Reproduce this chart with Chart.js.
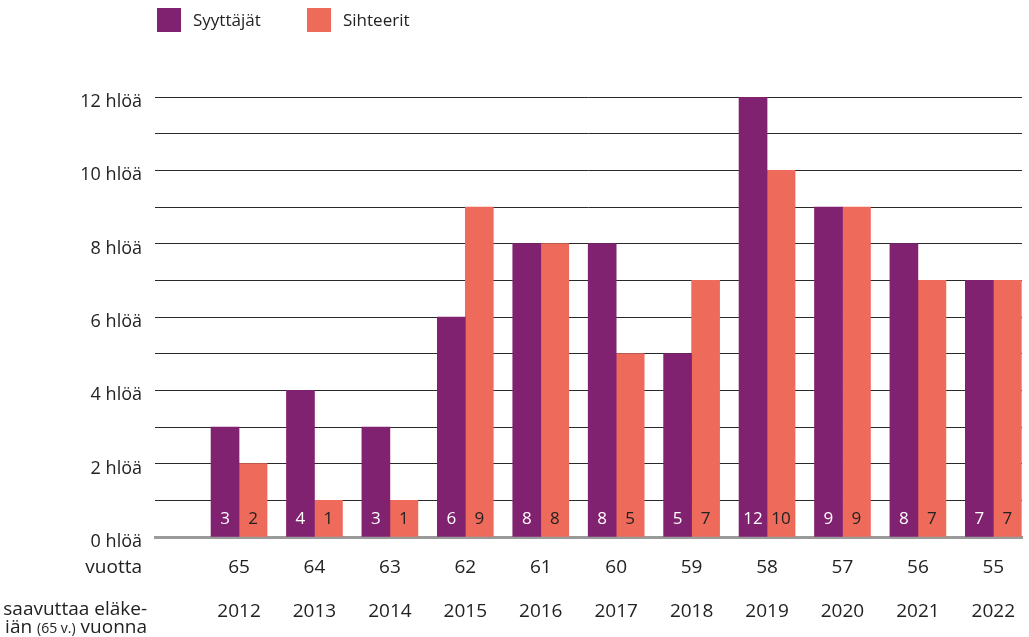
<!DOCTYPE html>
<html>
<head>
<meta charset="utf-8">
<script src="https://cdn.jsdelivr.net/npm/chart.js@4/dist/chart.umd.min.js"></script>
<style>
  html, body { margin: 0; padding: 0; background: #fff; }
  #wrap { width: 1029px; height: 637px; position: relative; }
</style>
</head>
<body>
<div id="wrap"><canvas id="c"></canvas></div>
<script>
const years = ['2012','2013','2014','2015','2016','2017','2018','2019','2020','2021','2022'];
const ages = ['65','64','63','62','61','60','59','58','57','56','55'];
const syyttajat = [3, 4, 3, 6, 8, 8, 5, 12, 9, 8, 7];
const sihteerit = [2, 1, 1, 9, 8, 5, 7, 10, 9, 7, 7];
const seriesNames = ['Syyttäjät', 'Sihteerit'];
const yTickUnit = 'hlöä';
const rowLabelAge = 'vuotta';

const PURPLE = '#812270';
const CORAL = '#EE6A5A';
const TEXT = '#222222';
const FONT = '"Open Sans", "DejaVu Sans", sans-serif';

const toPoints = arr => arr.map((v, i) => ({ x: i, y: v }));

const extras = {
  id: 'extras',
  afterDatasetsDraw(chart) {
    const ctx = chart.ctx;
    const yScale = chart.scales.y;
    ctx.save();
    ctx.font = '17px ' + FONT;
    ctx.textAlign = 'center';
    ctx.textBaseline = 'middle';
    chart.data.datasets.forEach((ds, di) => {
      const meta = chart.getDatasetMeta(di);
      meta.data.forEach((el, i) => {
        ctx.fillStyle = di === 0 ? '#ffffff' : TEXT;
        ctx.fillText(String(ds.data[i].y), el.x, yScale.getPixelForValue(0) - 18);
      });
    });
    ctx.restore();
  },
  afterDraw(chart) {
    const ctx = chart.ctx;
    const area = chart.chartArea;
    ctx.save();
    // legend
    const legendX = [157, 307];
    chart.data.datasets.forEach((ds, di) => {
      ctx.fillStyle = ds.backgroundColor;
      ctx.fillRect(legendX[di], 8, 24, 24);
      ctx.fillStyle = TEXT;
      ctx.font = '17px ' + FONT;
      ctx.textAlign = 'left';
      ctx.textBaseline = 'middle';
      ctx.fillText(ds.label, legendX[di] + 36, 21);
    });
    // left row labels
    ctx.fillStyle = TEXT;
    ctx.textBaseline = 'middle';
    ctx.textAlign = 'right';
    ctx.font = '19px ' + FONT;
    ctx.fillText(rowLabelAge, 142, area.bottom + 31);
    ctx.fillText('saavuttaa eläke-', 147, area.bottom + 73);
    // "iän (65 v.) vuonna" with smaller parenthetical
    const big = '19px ' + FONT, small = '14px ' + FONT;
    const parts = [['iän ', big], ['(65 v.)', small], [' vuonna', big]];
    let total = 0;
    parts.forEach(p => { ctx.font = p[1]; total += ctx.measureText(p[0]).width; });
    let x = 147 - total;
    ctx.textAlign = 'left';
    ctx.textBaseline = 'alphabetic';
    parts.forEach(p => {
      ctx.font = p[1];
      ctx.fillText(p[0], x, area.bottom + 96);
      x += ctx.measureText(p[0]).width;
    });
    ctx.restore();
  }
};

new Chart(document.getElementById('c'), {
  type: 'bar',
  data: {
    datasets: [
      { label: seriesNames[0], data: toPoints(syyttajat), backgroundColor: PURPLE, barThickness: 28 },
      { label: seriesNames[1], data: toPoints(sihteerit), backgroundColor: CORAL, barThickness: 28 }
    ]
  },
  options: {
    responsive: true,
    maintainAspectRatio: false,
    animation: false,
    layout: { padding: { top: 97, right: 7, bottom: 0, left: 0 } },
    plugins: { legend: { display: false }, tooltip: { enabled: false } },
    scales: {
      x: {
        type: 'linear',
        offset: false,
        min: -1.114,
        max: 10.38,
        grid: { display: false, drawTicks: false, offset: false },
        border: { display: true, color: '#9a9a9a', width: 3 },
        afterFit(scale) { scale.height = 100; },
        ticks: {
          stepSize: 1,
          includeBounds: false,
          autoSkip: false,
          maxRotation: 0,
          padding: 9,
          color: TEXT,
          font: { family: FONT, size: 19, lineHeight: 44 / 19 },
          callback(v) {
            if (Number.isInteger(v) && v >= 0 && v < years.length) return [ages[v], years[v]];
            return '';
          }
        }
      },
      y: {
        min: 0,
        max: 12,
        afterFit(scale) { scale.width = 155; },
        grid: { color: '#2a2a2a', lineWidth: 1, drawTicks: false },
        border: { display: false },
        ticks: {
          stepSize: 1,
          padding: 13,
          labelOffset: 5,
          autoSkip: false,
          color: TEXT,
          font: { family: FONT, size: 18 },
          callback(v) { return v % 2 === 0 ? v + ' ' + yTickUnit : ''; }
        }
      }
    }
  },
  plugins: [extras]
});
</script>
</body>
</html>
